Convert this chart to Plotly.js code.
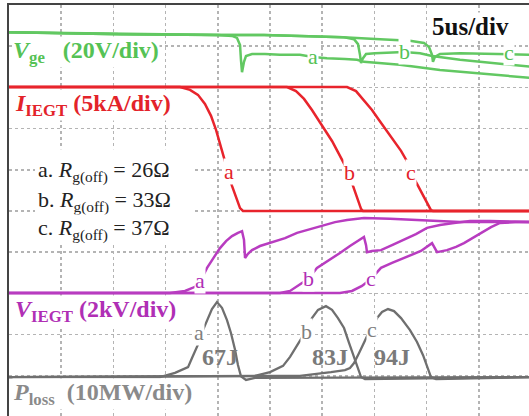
<!DOCTYPE html>
<html>
<head>
<meta charset="utf-8">
<script src="https://cdn.plot.ly/plotly-3.0.1.min.js"></script>
<style>
html,body{margin:0;padding:0;overflow:hidden;background:#fff;}
#chart{width:533px;height:420px;}
</style>
</head>
<body>
<div id="chart"></div>
<script>
// time in microseconds (5 us/div), vertical position in divisions
const vgeA_t = [0,4.89,10.63,14.75,20.02,21.36,21.84,22.13,22.22,22.32,22.51,22.70,23.28,24.52,25.96,27.87,29.12,30.46,32.18,33.33,34.00,37.45,41.28,45.11,50];
const vgeA_v = [9.34,9.32,9.29,9.29,9.27,9.25,9.20,9.03,8.66,8.37,8.62,8.76,8.81,8.81,8.79,8.79,8.74,8.71,8.69,8.67,8.62,8.55,8.42,8.33,8.23];
const vgeB_t = [0,4.89,10.63,20.02,24.43,27.87,31.99,33.05,33.43,33.62,33.72,33.91,34.20,35.06,36.97,37.84,39.37,40.52,43.20,47.03,50];
const vgeB_v = [9.34,9.32,9.29,9.27,9.27,9.25,9.22,9.17,9.05,8.79,8.59,8.71,8.81,8.83,8.86,8.86,8.83,8.76,8.67,8.57,8.50];
const vgeC_t = [0,4.89,10.63,20.02,24.43,27.87,31.99,35.54,38.41,39.75,40.23,40.52,40.61,40.80,41.28,43.20,47.03,47.89,50];
const vgeC_v = [9.34,9.32,9.29,9.27,9.27,9.25,9.22,9.17,9.13,9.08,8.98,8.79,8.62,8.74,8.81,8.83,8.81,8.81,8.79];

const iA_t = [0,16.38,17.34,18.10,18.77,19.35,19.83,20.21,20.59,20.98,21.36,21.74,22.13,22.41,50];
const iA_v = [8.01,8.01,7.94,7.82,7.60,7.31,6.97,6.65,6.31,5.95,5.61,5.32,5.07,5.00,5.00];
const iB_t = [0,26.63,27.49,28.26,29.02,29.69,30.36,30.94,31.51,32.09,32.57,32.95,33.33,33.72,33.91,50];
const iB_v = [8.01,8.01,7.91,7.72,7.45,7.18,6.94,6.70,6.43,6.17,5.92,5.61,5.32,5.05,5.00,5.00];
const iC_t = [0,32.38,33.24,34.00,34.77,35.44,36.21,36.88,37.55,38.12,38.51,39.08,39.56,40.04,40.42,40.61,50];
const iC_v = [8.01,8.01,7.91,7.69,7.45,7.21,6.94,6.70,6.46,6.21,5.92,5.66,5.44,5.22,5.02,5.00,5.00];

const vA_t = [0,15.42,16.86,17.82,18.30,18.97,19.64,20.21,20.79,21.36,21.93,22.32,22.51,22.61,22.89,23.28,24.04,25.00,26.44,27.59,28.83,30.08,31.23,32.38,34.00,36.49,40.04,43.20,46.07,50];
const vA_v = [3.01,3.01,3.06,3.16,3.28,3.62,3.88,4.10,4.27,4.39,4.47,4.51,4.30,3.86,3.96,4.05,4.15,4.22,4.34,4.47,4.56,4.66,4.73,4.78,4.83,4.81,4.76,4.73,4.73,4.73];
const vB_t = [0,25.96,26.92,27.59,28.64,29.50,30.56,31.70,32.66,33.33,34.00,34.20,34.29,34.77,35.63,36.69,37.84,38.98,40.04,41.28,42.62,44.16,46.07,50];
const vB_v = [3.01,3.01,3.06,3.18,3.35,3.62,3.79,3.98,4.15,4.25,4.37,4.17,4.00,4.03,4.05,4.17,4.30,4.44,4.59,4.66,4.71,4.76,4.76,4.73];
const vC_t = [0,31.70,32.85,33.81,34.67,35.63,36.69,37.84,38.79,39.46,40.52,40.80,41.00,41.95,42.82,43.58,44.35,45.21,46.17,47.03,48.47,50];
const vC_v = [3.01,3.01,3.06,3.18,3.35,3.62,3.74,3.86,3.96,4.03,4.22,4.10,4.00,4.05,4.13,4.22,4.34,4.47,4.61,4.71,4.73,4.73];

const pA_t = [0,14.46,15.90,16.57,17.15,17.53,17.91,18.30,18.58,18.97,19.44,19.92,20.40,20.88,21.26,21.65,21.93,22.22,22.70,23.56,50];
const pA_v = [0.97,0.97,1.07,1.14,1.21,1.43,1.65,1.87,2.11,2.35,2.62,2.79,2.65,2.35,2.04,1.63,1.26,0.99,0.90,0.95,0.97];
const pB_t = [0,23.56,25.00,26.25,26.92,27.49,28.07,28.45,29.02,29.60,30.36,30.94,31.51,32.09,32.57,33.05,33.43,33.72,34.10,50];
const pB_v = [0.97,1.00,1.09,1.24,1.46,1.70,1.94,2.09,2.40,2.60,2.69,2.60,2.40,2.16,1.80,1.46,1.17,0.97,0.92,0.97];
const pC_t = [0,27.87,30.84,32.18,32.66,33.05,33.52,34.00,34.48,34.77,35.25,35.73,36.30,36.88,37.55,38.41,39.08,39.66,40.13,40.42,40.90,50];
const pC_v = [0.97,1.00,1.09,1.14,1.19,1.31,1.55,1.82,2.06,2.16,2.40,2.55,2.62,2.57,2.40,2.11,1.82,1.50,1.19,0.97,0.92,0.97];

const caseNames = ['a','b','c'];
const rgValues = [26,33,37];
const vgeLabelT = [29.12,37.84,47.89], vgeLabelV = [8.74,8.88,8.85];
const iLabelT = [21.07,32.57,38.51], iLabelV = [5.97,5.94,5.94];
const vLabelT = [18.30,28.64,34.67], vLabelV = [3.32,3.37,3.37];
const pLabelT = [18.20,28.54,34.77], pLabelV = [2.06,2.08,2.13];
const energyText = ['67J','83J','94J'];
const energyT = [20.21,30.75,36.69], energyV = [1.46,1.46,1.46];

const GREEN = '#62c862', RED = '#e8242c', MAG = '#b83cc0', GRAY = '#6f6f6f';
const SERIF = '"Liberation Serif","Times New Roman",serif';

function tr(x, y, color, w) {
  return {x: x, y: y, type: 'scatter', mode: 'lines', line: {color: color, width: w}, hoverinfo: 'skip'};
}
const data = [
  tr(pA_t, pA_v, GRAY, 2.3), tr(pB_t, pB_v, GRAY, 2.3), tr(pC_t, pC_v, GRAY, 2.3),
  tr(vA_t, vA_v, MAG, 2.5), tr(vB_t, vB_v, MAG, 2.5), tr(vC_t, vC_v, MAG, 2.5),
  tr(iA_t, iA_v, RED, 2.5), tr(iB_t, iB_v, RED, 2.5), tr(iC_t, iC_v, RED, 2.5),
  tr(vgeA_t, vgeA_v, GREEN, 2.5), tr(vgeB_t, vgeB_v, GREEN, 2.5), tr(vgeC_t, vgeC_v, GREEN, 2.5)
];

function ann(x, y, text, color, size, opts) {
  return Object.assign({x: x, y: y, xref: 'x', yref: 'y', text: text, showarrow: false,
    font: {family: SERIF, size: size, color: color}, xanchor: 'center', yanchor: 'middle',
    bgcolor: 'white', borderpad: 0}, opts || {});
}
const annotations = [];
const NB = '\u00a0';
annotations.push(ann(0.29, 8.86, '<b><i>V</i><sub>ge</sub>' + NB + NB + NB + '(20V/div)</b>', '#55c255', 24, {xanchor: 'left'}));
annotations.push(ann(0.48, 7.57, '<b><i>I</i><sub>IEGT</sub> (5kA/div)</b>', '#e3232a', 24, {xanchor: 'left'}));
annotations.push(ann(0.48, 2.57, '<b><i>V</i><sub>IEGT</sub> (2kV/div)</b>', '#b02fb5', 24, {xanchor: 'left'}));
annotations.push(ann(0.29, 0.56, '<b><i>P</i><sub>loss</sub>' + NB + NB + '(10MW/div)</b>', '#8a8a8a', 24, {xanchor: 'left'}));
annotations.push(ann(40.42, 9.49, '<b>5us/div</b>', '#111', 25, {xanchor: 'left'}));
const rgY = [5.95, 5.22, 4.54];
for (let i = 0; i < 3; i++) {
  annotations.push(ann(2.68, rgY[i], caseNames[i] + '. <i>R</i><sub>g(off)</sub> = ' + rgValues[i] + 'Ω', '#222', 22, {xanchor: 'left'}));
  annotations.push(ann(vgeLabelT[i], vgeLabelV[i], caseNames[i], '#55c255', 22));
  annotations.push(ann(iLabelT[i], iLabelV[i], caseNames[i], '#e3232a', 22));
  annotations.push(ann(vLabelT[i], vLabelV[i], caseNames[i], '#b02fb5', 22));
  annotations.push(ann(pLabelT[i], pLabelV[i], caseNames[i], '#808080', 22));
  annotations.push(ann(energyT[i], energyV[i], '<b>' + energyText[i] + '</b>', '#7a7a7a', 24, {bgcolor: 'rgba(0,0,0,0)'}));
}

const axisCommon = {showticklabels: false, ticks: '', zeroline: false, showgrid: true,
  gridcolor: '#b4b4b4', griddash: 'dot', gridwidth: 1.5, showline: true, linecolor: '#444', linewidth: 2.5, mirror: true, fixedrange: true};
const layout = {
  width: 533, height: 420,
  margin: {l: 9, r: 2, t: 5, b: 3},
  paper_bgcolor: 'white', plot_bgcolor: 'white',
  showlegend: false,
  xaxis: Object.assign({range: [0, 50], dtick: 5, tick0: 0}, axisCommon),
  yaxis: Object.assign({range: [0, 10], dtick: 1, tick0: 0}, axisCommon),
  shapes: [{type: 'rect', xref: 'x', yref: 'y', x0: 2.49, x1: 17.8, y0: 4.2, y1: 6.5,
    fillcolor: 'white', line: {width: 0}, layer: 'above'}],
  annotations: annotations
};
Plotly.newPlot('chart', data, layout, {staticPlot: true, displayModeBar: false});
</script>
</body>
</html>
